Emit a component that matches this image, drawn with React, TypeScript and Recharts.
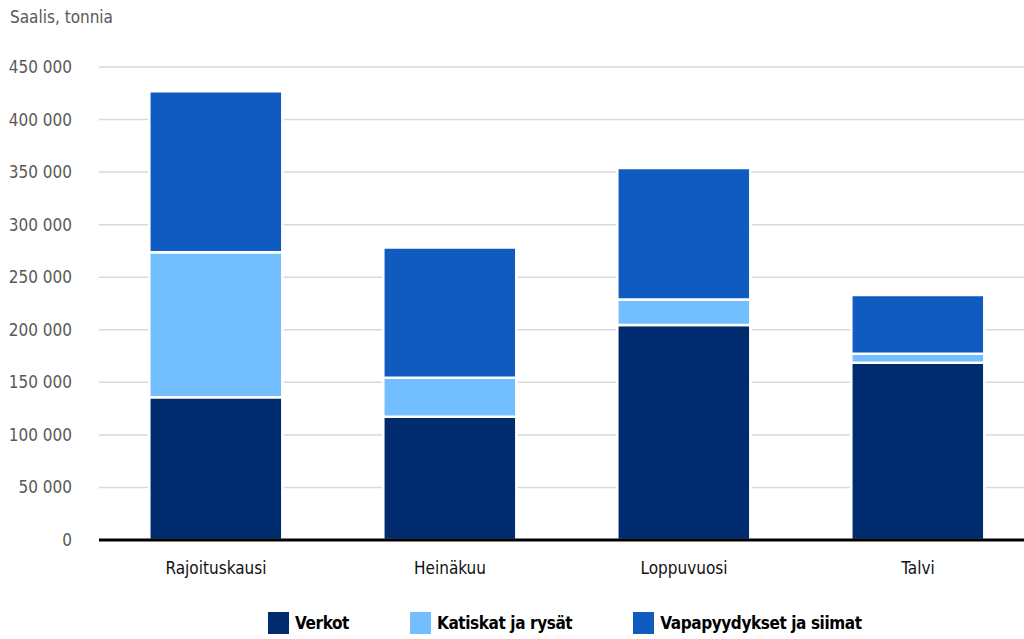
import { BarChart, Bar, XAxis, YAxis, CartesianGrid, ReferenceLine } from "recharts";

const categories = ["Rajoituskausi", "Heinäkuu", "Loppuvuosi", "Talvi"];
const verkot = [135700, 117300, 204600, 168600];
const katiskat = [138100, 37000, 24100, 8500];
const vapa = [153100, 124000, 125100, 56000];
const yTicks = [0, 50000, 100000, 150000, 200000, 250000, 300000, 350000, 400000, 450000];

const series = [
  { key: "verkot", name: "Verkot", color: "#002B6E" },
  { key: "katiskat", name: "Katiskat ja rysät", color: "#73BEFF" },
  { key: "vapa", name: "Vapapyydykset ja siimat", color: "#105BBF" },
];

const data = categories.map((name, i) => ({
  name,
  verkot: verkot[i],
  katiskat: katiskat[i],
  vapa: vapa[i],
}));

const FONT = "'Liberation Sans Narrow', 'DejaVu Sans Condensed', 'Roboto Condensed', 'Open Sans', sans-serif";

const fmt = (v: number) => String(v).replace(/\B(?=(\d{3})+(?!\d))/g, " ");

export default function App() {
  return (
    <div
      style={{
        position: "absolute",
        left: 0,
        top: 0,
        width: 1024,
        height: 639,
        overflow: "hidden",
        background: "#fff",
        fontFamily: FONT,
      }}
    >
      <div style={{ position: "absolute", left: 10, top: 7, fontSize: 17, color: "#595959" }}>
        Saalis, tonnia
      </div>
      <BarChart
        width={1040}
        height={639}
        data={data}
        margin={{ top: 67, right: 5, bottom: 59, left: 0 }}
        barCategoryGap="21.5%"
      >
        <CartesianGrid vertical={false} stroke="#d9d9d9" strokeWidth={1.5} />
        <XAxis
          dataKey="name"
          axisLine={false}
          tickLine={false}
          height={40}
          tickMargin={16}
          tick={{ fill: "#111", fontSize: 17, fontFamily: FONT }}
        />
        <YAxis
          width={99}
          domain={[0, 450000]}
          ticks={yTicks}
          tickFormatter={fmt}
          axisLine={false}
          tickLine={false}
          tickSize={0}
          tickMargin={27}
          tick={{ fill: "#595959", fontSize: 17, fontFamily: FONT }}
        />
        {series.map((s) => (
          <Bar
            key={s.key}
            dataKey={s.key}
            name={s.name}
            stackId="a"
            fill={s.color}
            stroke="#fff"
            strokeWidth={2.5}
            isAnimationActive={false}
          />
        ))}
        <ReferenceLine y={0} stroke="#000" strokeWidth={3} />
      </BarChart>
      <div
        style={{
          position: "absolute",
          top: 612,
          left: 268,
          display: "flex",
          alignItems: "center",
          fontWeight: "bold",
          fontSize: 17,
          letterSpacing: -0.4,
          color: "#000",
        }}
      >
        {series.map((s, i) => (
          <div key={s.key} style={{ display: "flex", alignItems: "center", marginLeft: i === 0 ? 0 : 61 }}>
            <span style={{ width: 21, height: 22, background: s.color, display: "inline-block", marginRight: 6 }} />
            <span>{s.name}</span>
          </div>
        ))}
      </div>
    </div>
  );
}
